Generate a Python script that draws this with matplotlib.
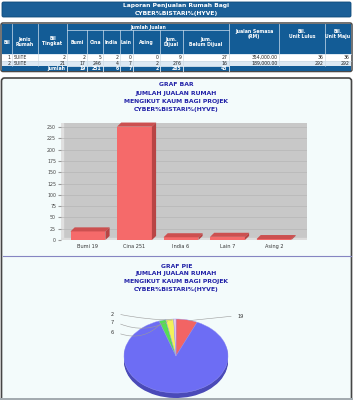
import matplotlib
matplotlib.use('Agg')
import matplotlib.pyplot as plt
from matplotlib.patches import FancyBboxPatch, Rectangle, Polygon
import numpy as np

W, H = 353, 400

# ---- data ----
report_title = ['Laporan Penjualan Rumah Bagi', 'CYBER%BISTARI%(HYVE)']
chart_title_lines = ['JUMLAH JUALAN RUMAH', 'MENGIKUT KAUM BAGI PROJEK', 'CYBER%BISTARI%(HYVE)']
races = ['Bumi', 'Cina', 'India', 'Lain', 'Asing']
race_totals = [19, 251, 6, 7, 2]
row_no = ['1', '2']
row_type = ['SUITE', 'SUITE']
row_floors = [2, 21]
row_by_race = [[2, 5, 2, 0, 0], [17, 246, 4, 7, 2]]
row_sold = [9, 276]
row_unsold = [27, 16]
row_sales = ['354,000.00', '189,000.00']
row_approved = [36, 292]
row_built = [36, 292]
total_sold = 285
total_unsold = 43
pie_colors = ['#f26464', '#6d6df4', '#55dd55', '#f2f25a', '#f0cfe6']

BLUE = '#135c96'
TITLE_BLUE = '#2222a8'

fig = plt.figure(figsize=(W / 100, H / 100), dpi=100)
fig.patch.set_facecolor('white')


def px(l, t, r, b):
    return [l / W, 1 - b / H, (r - l) / W, (b - t) / H]


bg = fig.add_axes([0, 0, 1, 1])
bg.set_xlim(0, W)
bg.set_ylim(H, 0)
bg.axis('off')

# header bar
bg.add_patch(FancyBboxPatch((2, 2), 349, 15, boxstyle='round,pad=0,rounding_size=1.5',
                            fc='#1b5f97', ec='#0f4a7a', lw=0.6))
bg.text(176.5, 6, report_title[0], color='white', fontsize=4.3, fontweight='bold', ha='center', va='center')
bg.text(176.5, 13.5, report_title[1], color='white', fontsize=4.3, fontweight='bold', ha='center', va='center')

# ---- table ----
cols = [2, 12, 38, 67, 87, 103, 120, 133, 160, 183, 229, 279, 325, 351]
y_top, y_sub, y_head, y_r1, y_r2, y_bot = 24, 30, 54, 60.5, 66, 71
fs = 3.3

bg.add_patch(FancyBboxPatch((1, 23), 351, 48.5, boxstyle='round,pad=0,rounding_size=2',
                            fc='white', ec='#4a4a4a', lw=1.1, zorder=1))
bg.add_patch(Rectangle((2, y_top), 349, y_head - y_top, fc=BLUE, ec='none', zorder=2))
bg.add_patch(Rectangle((2, y_r1), 349, y_r2 - y_r1, fc='#dde9f3', ec='none', zorder=2))
bg.add_patch(Rectangle((2, y_r2), 349, y_bot - y_r2, fc=BLUE, ec='none', zorder=2))

line_kw = dict(color='#cfe0ee', lw=0.5, zorder=3)
# header cell borders
for i, x in enumerate(cols[1:-1], start=1):
    if 4 <= i <= 9:
        bg.plot([x, x], [y_sub, y_head], **line_kw)
    else:
        bg.plot([x, x], [y_top, y_head], **line_kw)
bg.plot([cols[3], cols[10]], [y_sub, y_sub], **line_kw)
bg.plot([2, 351], [y_head, y_head], **line_kw)
# data cell borders
for x in cols[1:-1]:
    bg.plot([x, x], [y_head, y_r2], color='#c9d6e0', lw=0.4, zorder=3)
bg.plot([2, 351], [y_r1, y_r1], color='#c9d6e0', lw=0.4, zorder=3)
# total row boxes
for x in cols[3:11]:
    bg.plot([x, x], [y_r2, y_bot], color='#e6eef5', lw=0.6, zorder=3)
bg.plot([cols[3], cols[10]], [y_r2 + 0.4, y_r2 + 0.4], color='#e6eef5', lw=0.6, zorder=3)

hk = dict(color='white', fontsize=fs, fontweight='bold', ha='center', va='center', zorder=4,
          linespacing=1.0)


def cx(i):
    return (cols[i] + cols[i + 1]) / 2


bg.text(cx(0), 42, 'Bil', **hk)
bg.text(cx(1), 42, 'Jenis\nRumah', **hk)
bg.text(cx(2), 41, 'Bil\nTingkat', **hk)
bg.text((cols[3] + cols[10]) / 2, 27, 'Jumlah Jualan', **hk)
for j, r in enumerate(races):
    bg.text(cx(3 + j), 42.5, r, **hk)
bg.text(cx(8), 42, 'Jum.\nDijual', **hk)
bg.text(cx(9), 42, 'Jum.\nBelum Dijual', **hk)
bg.text(cx(10), 34, 'Jualan Semasa\n(RM)', **hk)
bg.text(cx(11), 34, 'Bil.\nUnit Lulus', **hk)
bg.text(cx(12), 34, 'Bil.\nUnit Maju', **hk)

dk = dict(color='#222222', fontsize=fs, va='center', zorder=4)
for k in range(2):
    yy = (y_head + y_r1) / 2 if k == 0 else (y_r1 + y_r2) / 2
    vals = [row_floors[k]] + row_by_race[k] + [row_sold[k], row_unsold[k], row_sales[k],
                                               row_approved[k], row_built[k]]
    bg.text(cols[1] - 1.5, yy, row_no[k], ha='right', **dk)
    bg.text(cols[1] + 1.5, yy, row_type[k], ha='left', **dk)
    for j, v in enumerate(vals):
        bg.text(cols[3 + j] - 1.5, yy, str(v), ha='right', **dk)

yt = (y_r2 + y_bot) / 2
tk = dict(color='white', fontsize=fs, fontweight='bold', va='center', ha='right', zorder=4)
bg.text(cols[3] - 1.5, yt, 'Jumlah', **tk)
for j, v in enumerate(race_totals + [total_sold, total_unsold]):
    bg.text(cols[4 + j] - 1.5, yt, str(v), **tk)

# ---- chart panel ----
bg.add_patch(FancyBboxPatch((1.5, 78), 350, 330, boxstyle='round,pad=0,rounding_size=3',
                            fc='#f3fbfb', ec='#454545', lw=1.2, zorder=0))
bg.plot([2.5, 350.5], [256, 256], color='#8585c2', lw=0.8)
bg.add_patch(Rectangle((0, 397.5), W, 3, fc='#a3abb0', ec='none', zorder=5))

tt = dict(color=TITLE_BLUE, fontsize=4.4, fontweight='bold', ha='center', va='center')
for i, line in enumerate(['GRAF BAR'] + chart_title_lines):
    bg.text(176.5, 85 + 8 * i, line, **tt)
for i, line in enumerate(['GRAF PIE'] + chart_title_lines):
    bg.text(176.5, 266 + 8 * i, line, **tt)

# ---- bar chart ----
ax = fig.add_axes(px(61, 123, 307, 240))
ax.set_facecolor('#c8c8c8')
ax.set_xlim(-0.58, 4.71)
ax.set_ylim(0, 259)
for s in ax.spines.values():
    s.set_visible(False)
ax.set_yticks(np.arange(0, 251, 25))
ax.tick_params(axis='y', labelsize=3.4, labelcolor='#444444', length=2, color='#999999', pad=1.5)
ax.yaxis.grid(True, color='#b6b6b6', lw=0.5)
ax.set_axisbelow(True)
ax.axvspan(-0.58, -0.53, color='#e0e0e0', zorder=0.5)
ax.axhspan(0, 4, color='#dcdcdc', zorder=0.5)

bw, dx, dy = 0.75, 0.09, 9
x = np.arange(len(races))
ax.bar(x, race_totals, width=bw, color='#f56a6a', zorder=3)
for i, v in zip(x, race_totals):
    l, r = i - bw / 2, i + bw / 2
    ax.add_patch(Polygon([(l, v), (l + dx, v + dy), (r + dx, v + dy), (r, v)],
                         fc='#cc5050', ec='none', zorder=3, clip_on=False))
    ax.add_patch(Polygon([(r, 0), (r, v), (r + dx, v + dy), (r + dx, dy)],
                         fc='#b84444', ec='none', zorder=3, clip_on=False))
ax.set_xticks(x, [f'{r} {v}' for r, v in zip(races, race_totals)])
ax.tick_params(axis='x', labelsize=3.6, labelcolor='#333333', length=0, pad=3)

# ---- pie chart ----
pa = fig.add_axes(px(124, 319, 228, 398))
pa.axis('off')
depth = 5 / 37
shade = ['#b04545', '#4a4ab8', '#3aa83a', '#b8b840', '#b898ac']
for k in np.linspace(depth, 0.02, 5):
    pa.pie(race_totals, colors=shade, startangle=90, counterclock=False,
           center=(0, -k), radius=1, wedgeprops=dict(lw=0))
pa.pie(race_totals, colors=pie_colors, startangle=90, counterclock=False,
       center=(0, 0), radius=1, wedgeprops=dict(lw=0.3, edgecolor='#9a9af5'))
pa.set_aspect('auto')
pa.set_xlim(-1, 1)
pa.set_ylim(-1 - depth, 1)

# leader lines
fracs = np.array(race_totals) / sum(race_totals)
ends = 90 - 360 * np.cumsum(fracs)
mids = ends + 180 * fracs
label_pos = {0: (238, 316), 4: (114, 314), 3: (114, 323), 2: (114, 333)}
rads = {0: 0.0, 4: 0.05, 3: 0.25, 2: 0.35}
for i, (lx, ly) in label_pos.items():
    a = np.deg2rad(mids[i])
    pt = (0.97 * np.cos(a), 0.97 * np.sin(a))
    pa.annotate('', xy=pt, xycoords=pa.transData, xytext=(lx + (-4 if i == 0 else 4), ly),
                textcoords=bg.transData,
                arrowprops=dict(arrowstyle='-', color='#9a9a9a', lw=0.4,
                                connectionstyle=f'arc3,rad={rads[i]}'))
    bg.text(lx, ly, str(race_totals[i]), fontsize=3.6, color='#333333',
            ha='left' if i == 0 else 'right', va='center')

fig.savefig('out.png', dpi=100)
